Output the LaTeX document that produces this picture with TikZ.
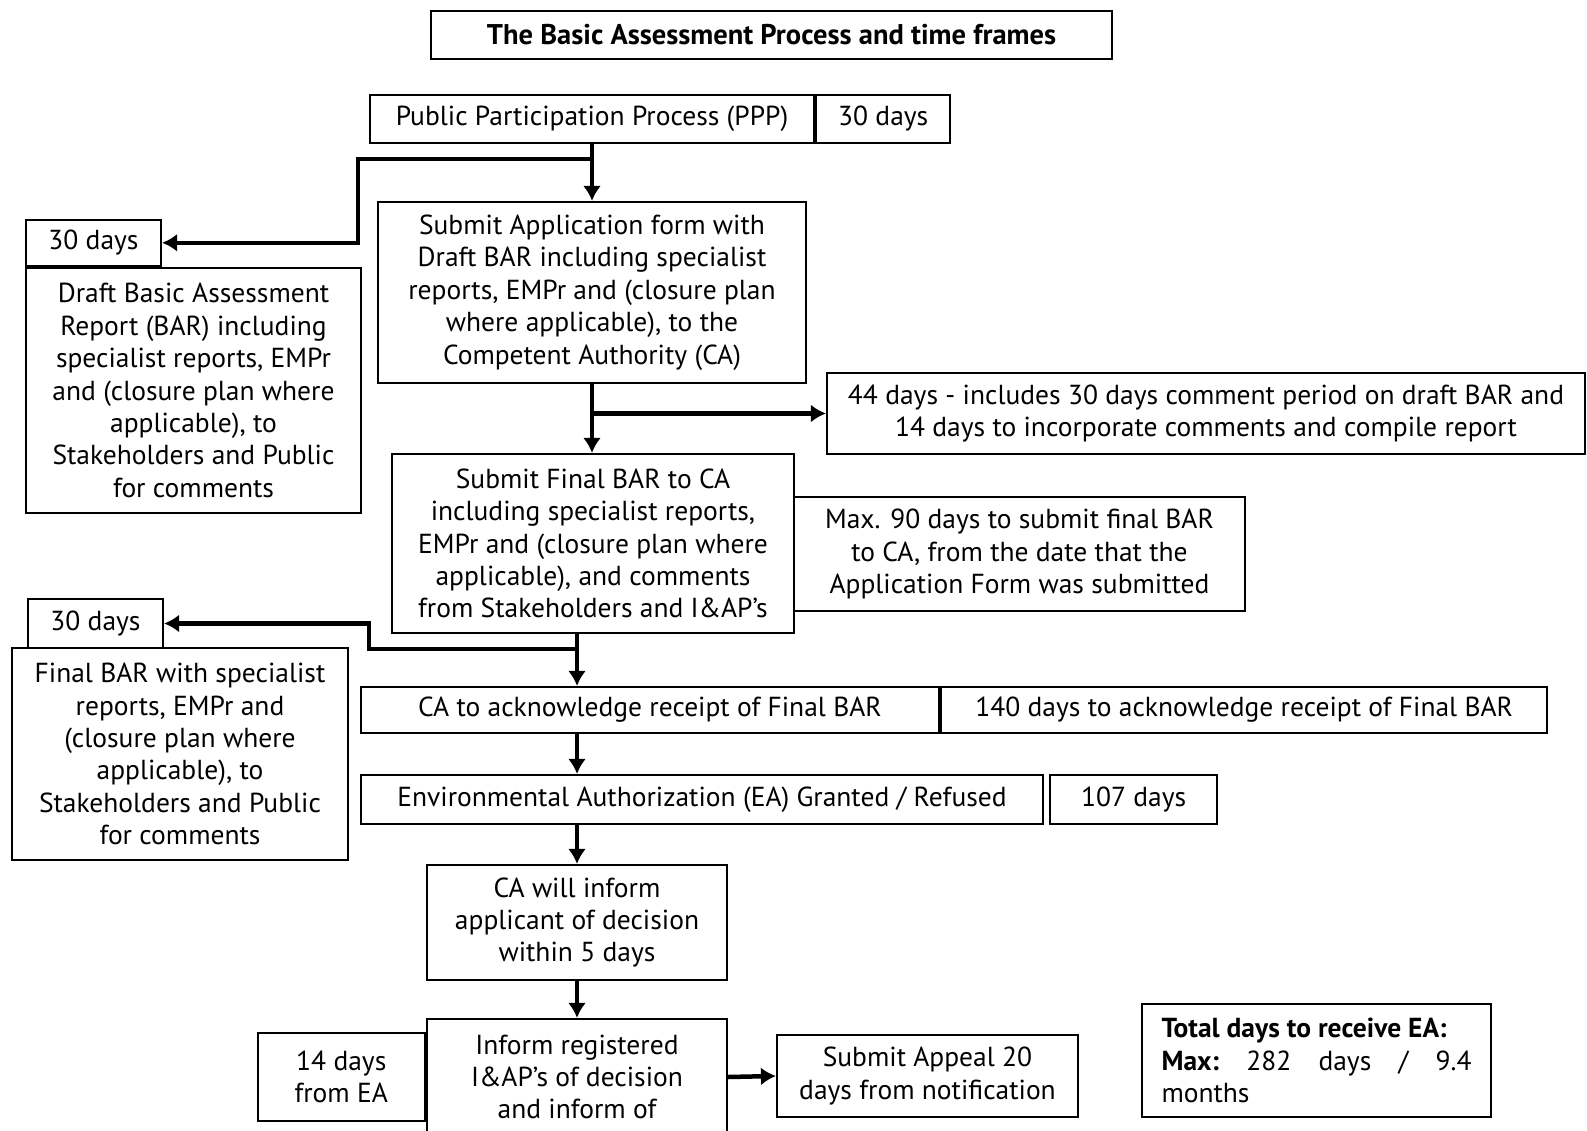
\documentclass[tikz,border=0pt]{standalone}
\usepackage{fontspec}
\setmainfont{PT Sans}
\usetikzlibrary{arrows.meta, positioning}

\begin{document}
\begin{tikzpicture}[x=1pt, y=-1pt]
\tikzset{box/.style={rectangle, draw=black, line width=2.2pt, inner sep=0pt, align=center, font=\fontsize{27.5}{32.4}\selectfont}}
\tikzset{connect/.style={-{Latex[length=15pt, width=18pt]}, line width=4.5pt}}
\clip (0,0) rectangle (1587,1131);
\fill[white] (0,0) rectangle (1587,1131);
    % title and PPP
    \node[box, minimum width=681pt, minimum height=48pt, font=\fontsize{28.5}{32.4}\selectfont\bfseries] (title) at (771.5,35) {The Basic Assessment Process and time frames};
    \node[box, minimum width=444pt, minimum height=48pt] (ppp) at (592,119) {Public Participation Process (PPP)};
    \node[box, minimum width=134pt, minimum height=48pt] (ppp30) [right=0pt of ppp] {30 days};
    % application and draft BAR
    \node[box, minimum width=428pt, minimum height=181pt] (app) at (592,292.5) {Submit Application form with\\Draft BAR including specialist\\reports, EMPr and (closure plan\\where applicable), to the\\Competent Authority (CA)};
    \node[box, minimum width=335pt, minimum height=245pt] (draft) at (193.5,390.5) {Draft Basic Assessment\\Report (BAR) including\\specialist reports, EMPr\\and (closure plan where\\applicable), to\\Stakeholders and Public\\for comments};
    \node[box, minimum width=135pt, minimum height=46pt] (d30) [above right=0pt of draft.north west] {30 days};
    \node[box, minimum width=758pt, minimum height=81pt] (c44) at (1206,413.5) {44 days - includes 30 days comment period on draft BAR and\\14 days to incorporate comments and compile report};
    % final BAR
    \node[box, minimum width=402pt, minimum height=179pt] (final) at (593,543.5) {Submit Final BAR to CA\\including specialist reports,\\EMPr and (closure plan where\\applicable), and comments\\from Stakeholders and I\&AP’s};
    \node[box, minimum width=451pt, minimum height=114pt] (max90) at (1019.5,554) {Max. 90 days to submit final BAR\\to CA, from the date that the\\Application Form was submitted};
    \node[box, minimum width=336pt, minimum height=212pt] (finalbar) at (180,754) {Final BAR with specialist\\reports, EMPr and\\(closure plan where\\applicable), to\\Stakeholders and Public\\for comments};
    \node[box, minimum width=135pt, minimum height=49pt] (f30) at (95.5,623.5) {30 days};
    % decision
    \node[box, minimum width=578pt, minimum height=46pt] (ack) at (650,710) {CA to acknowledge receipt of Final BAR};
    \node[box, minimum width=606pt, minimum height=46pt] (ack140) [right=0pt of ack] {140 days to acknowledge receipt of Final BAR};
    \node[box, minimum width=682pt, minimum height=49pt] (ea) at (702,799.5) {Environmental Authorization (EA) Granted / Refused};
    \node[box, minimum width=167pt, minimum height=49pt] (ea107) [right=5pt of ea] {107 days};
    \node[box, minimum width=300pt, minimum height=115pt] (inform) at (577,922.5) {CA will inform\\applicant of decision\\within 5 days};
    \node[box, minimum width=300pt, minimum height=116pt] (registered) at (577,1077) {Inform registered\\I\&AP’s of decision\\and inform of};
    \node[box, minimum width=167pt, minimum height=88pt] (d14) [left=0pt of registered.west] {14 days\\from EA};
    \node[box, minimum width=301pt, minimum height=82pt] (appeal) at (927.5,1076) {Submit Appeal 20\\days from notification};
    \node[box, minimum width=349pt, minimum height=113pt, align=left] (total) at (1316.5,1060.5) {\textbf{Total days to receive EA:}\\\hbox to 310pt{\textbf{Max:}\hfill 282\hfill days\hfill /\hfill 9.4}\\months};
    % connectors
    \coordinate (j1) at (592,159);
    \coordinate (j2) at (592,413.5);
    \coordinate (j3) at (577,649);
    \draw[connect] (ppp.south) -- (app.north);
    \draw[connect] (j1) -- (358,159) |- (d30.east);
    \draw[connect] (app.south) -- (app.south |- final.north);
    \draw[connect] (j2) -- (c44.west);
    \draw[connect] (final.south -| inform.north) -- (ack.north -| inform.north);
    \draw[connect] (j3) -- (369,649) |- (f30.east);
    \draw[connect] (ack.south -| inform.north) -- (ea.north -| inform.north);
    \draw[connect] (ea.south -| inform.north) -- (inform.north);
    \draw[connect] (inform.south) -- (registered.north);
    \draw[connect] (registered.east) -- (appeal.west);
\end{tikzpicture}
\end{document}
